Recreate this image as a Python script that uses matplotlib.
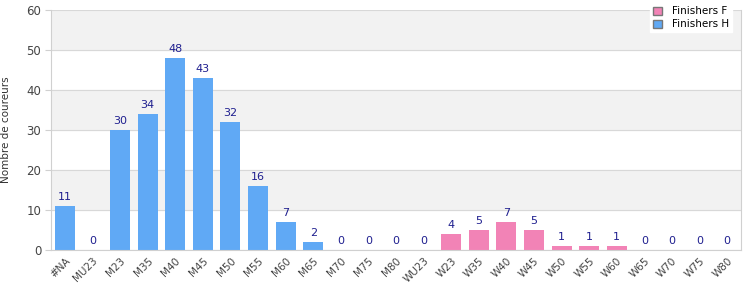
import matplotlib
matplotlib.use('Agg')
import matplotlib.pyplot as plt
import numpy as np

categories = ['#NA', 'MU23', 'M23', 'M35', 'M40', 'M45', 'M50', 'M55', 'M60', 'M65',
              'M70', 'M75', 'M80', 'WU23', 'W23', 'W35', 'W40', 'W45', 'W50', 'W55',
              'W60', 'W65', 'W70', 'W75', 'W80']
finishers_h = [11, 0, 30, 34, 48, 43, 32, 16, 7, 2, 0, 0, 0, 0,
               0, 0, 0, 0, 0, 0, 0, 0, 0, 0, 0]
finishers_f = [0, 0, 0, 0, 0, 0, 0, 0, 0, 0, 0, 0, 0, 0,
               4, 5, 7, 5, 1, 1, 1, 0, 0, 0, 0]

plt.rcParams['font.family'] = ['DejaVu Sans']

fig = plt.figure(figsize=(7.5, 3), dpi=100)
ax = fig.add_axes([0.068, 0.167, 0.92, 0.80])

x = np.arange(len(categories))
h = np.array(finishers_h)
f = np.array(finishers_f)

# bandes de fond
for lo in (10, 30, 50):
    ax.axhspan(lo, lo + 10, color='#f2f2f2', zorder=0)
ax.grid(axis='y', color='#d8d8d8', linewidth=0.8, zorder=1)
ax.set_axisbelow(True)

ax.bar(x, f, width=0.72, color='#f283b6', label='Finishers F', zorder=2)
ax.bar(x, h, width=0.72, bottom=f, color='#60a9f5', label='Finishers H', zorder=2)

totals = h + f
for xi, t in zip(x, totals):
    ax.text(xi, t + 0.9, str(t), ha='center', va='bottom', fontsize=8, color='#1f1f8f')

ax.set_xlim(-0.5, len(categories) - 0.5)
ax.set_ylim(0, 60)
ax.set_yticks(range(0, 61, 10))
ax.set_xticks(x)
ax.set_xticklabels(categories, rotation=45, ha='right', rotation_mode='anchor', fontsize=7.5, color='#444444')
ax.tick_params(axis='y', labelsize=8.5, labelcolor='#444444', color='#d0d0d0', length=4, pad=3)
ax.tick_params(axis='x', length=0, pad=4)
ax.set_ylabel('Nombre de coureurs', fontsize=7.5, color='#333333')
ax.yaxis.set_label_coords(-0.058, 0.5)

for s in ax.spines.values():
    s.set_color('#d0d0d0')
ax.spines['top'].set_visible(False)

handles, labels = ax.get_legend_handles_labels()
leg = ax.legend(handles, labels, loc='upper right', bbox_to_anchor=(0.995, 1.05),
                fontsize=7.5, frameon=True, fancybox=False, framealpha=1,
                edgecolor='white', handlelength=0.8, handleheight=0.8,
                handletextpad=1.0, borderpad=0.3, labelspacing=0.3)
for p in leg.get_patches():
    p.set_edgecolor('#777777')
leg.set_zorder(5)

fig.savefig('out.png', dpi=100)
